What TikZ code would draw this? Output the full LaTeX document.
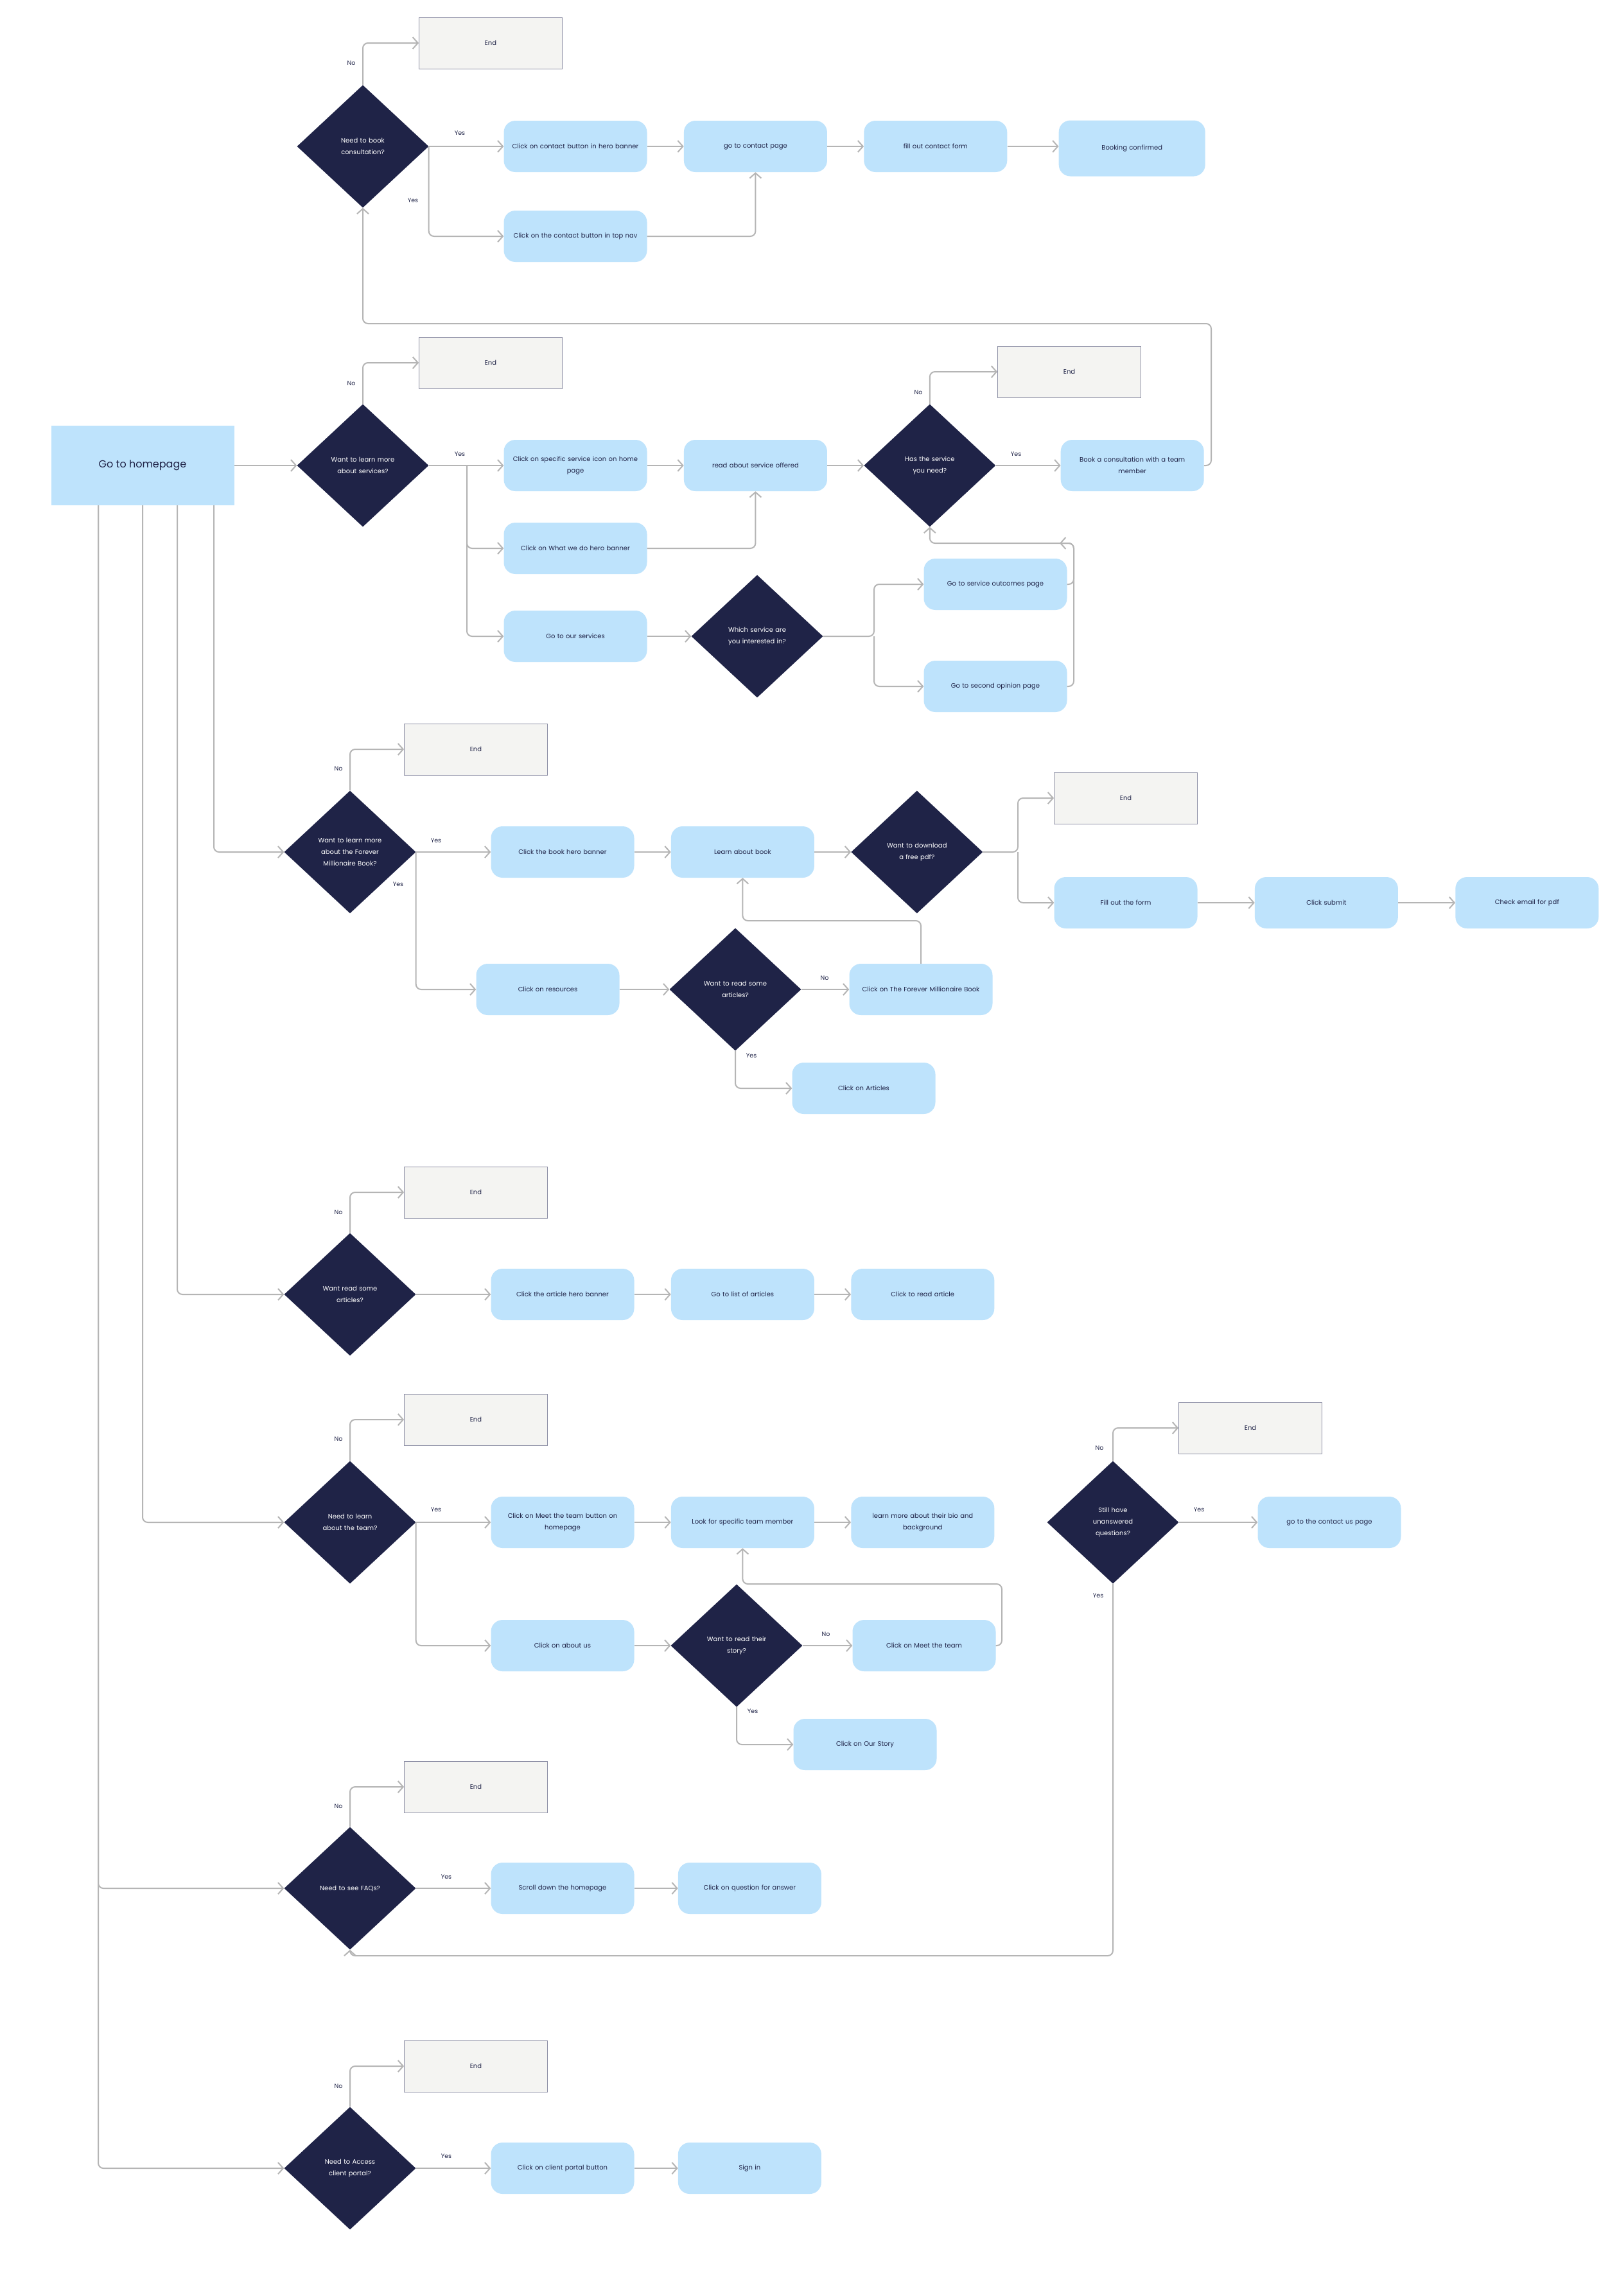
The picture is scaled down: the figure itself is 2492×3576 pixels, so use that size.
\documentclass[tikz,border=0pt]{standalone}
\usepackage{fontspec}
\setmainfont{Poppins}
\usetikzlibrary{shapes.geometric,arrows.meta,positioning}

\definecolor{boxblue}{HTML}{BEE3FC}
\definecolor{navy}{HTML}{1F2347}
\definecolor{endgray}{HTML}{F4F4F2}
\definecolor{endline}{HTML}{8E90A6}
\definecolor{linegray}{HTML}{B5B5B5}

\begin{document}
\begin{tikzpicture}[x=1pt,y=-1pt,node distance=57pt,
	action/.style={
		% The shape:
		rectangle, rounded corners=18pt,
		% The size:
		minimum width=223pt, minimum height=80pt,
		text width=210pt, align=center, inner sep=0pt,
		% The filling:
		fill=boxblue,
		% Font
		text=navy, font=\fontsize{10}{18}\selectfont
		},
	decision/.style={
		% The shape:
		diamond,
		% The size:
		minimum width=205pt, minimum height=191pt,
		text width=120pt, align=center, inner sep=0pt,
		% The filling:
		fill=navy,
		% Font
		text=white, font=\fontsize{10}{18}\selectfont
		},
	terminal/.style={
		rectangle,
		minimum width=223pt, minimum height=80pt,
		draw=endline, line width=0.8pt, % thin frame
		fill=endgray,
		text=navy, font=\fontsize{10}{18}\selectfont
		},
	start/.style={
		rectangle,
		minimum width=285pt, minimum height=124pt,
		fill=boxblue,
		text=navy, font=\fontsize{16}{20}\selectfont
		},
	answer/.style={text=navy, inner sep=0pt, font=\fontsize{9.5}{11}\selectfont},
	link/.style={
		draw=linegray, line width=2pt, rounded corners=8pt,
		-{Straight Barb[length=8pt,width=18pt]}
		}]

	\path[use as bounding box, fill=white] (0,0) rectangle (2492,3576);

	% book a consultation
	\node (end1) [terminal] at (764,67) {End};
	\node (bookq) [decision] at (565,228) {Need to book\\consultation?};
	\node (heroBtn) [action] at (896,228) {Click on contact button in hero banner};
	\node (contactPage) [action,right=of heroBtn] {go to contact page};
	\node (contactForm) [action,right=of contactPage] {fill out contact form};
	\node (booked) [action,minimum width=228pt,minimum height=87pt,right=80pt of contactForm,yshift=-3pt] {Booking confirmed};
	\node (topNav) [action] at (896,368) {Click on the contact button in top nav};

	% services
	\node (home) [start] at (222,725) {Go to homepage};
	\node (servq) [decision] at (565,725) {Want to learn more\\about services?};
	\node (end2) [terminal] at (764,565) {End};
	\node (serviceIcon) [action] at (896,725) {Click on specific service icon on home\\page};
	\node (serviceRead) [action,right=of serviceIcon] {read about service offered};
	\node (needq) [decision,right=of serviceRead] {Has the service\\you need?};
	\node (end3) [terminal] at (1665,579) {End};
	\node (bookTeam) [action,right=101pt of needq] {Book a consultation with a team\\member};
	\node (whatWeDo) [action] at (896,854) {Click on What we do hero banner};
	\node (ourServices) [action] at (896,991) {Go to our services};
	\node (whichq) [decision] at (1179,991) {Which service are\\you interested in?};
	\node (outcomes) [action] at (1550,910) {Go to service outcomes page};
	\node (secondOpinion) [action] at (1550,1069) {Go to second opinion page};

	% the book
	\node (end4) [terminal] at (741,1167) {End};
	\node (millionq) [decision] at (545,1327) {Want to learn more\\about the Forever\\Millionaire Book?};
	\node (bookBanner) [action] at (876,1327) {Click the book hero banner};
	\node (learnBook) [action,right=of bookBanner] {Learn about book};
	\node (pdfq) [decision,right=of learnBook] {Want to download\\a free pdf?};
	\node (end5) [terminal] at (1753,1243) {End};
	\node (fillForm) [action] at (1753,1406) {Fill out the form};
	\node (submit) [action,right=89pt of fillForm] {Click submit};
	\node (checkEmail) [action,right=89pt of submit] {Check email for pdf};
	\node (resources) [action] at (853,1541) {Click on resources};
	\node (articlesq) [decision] at (1145,1541) {Want to read some\\articles?};
	\node (bookLink) [action] at (1434,1541) {Click on The Forever Millionaire Book};
	\node (articlesLink) [action] at (1345,1695) {Click on Articles};

	% articles
	\node (end6) [terminal] at (741,1857) {End};
	\node (readq) [decision] at (545,2016) {Want read some\\articles?};
	\node (articleBanner) [action] at (876,2016) {Click the article hero banner};
	\node (articleList) [action,right=of articleBanner] {Go to list of articles};
	\node (readArticle) [action,right=of articleList] {Click to read article};

	% the team
	\node (end7) [terminal] at (741,2211) {End};
	\node (teamq) [decision] at (545,2371) {Need to learn\\about the team?};
	\node (meetBtn) [action] at (876,2371) {Click on Meet the team button on\\homepage};
	\node (findMember) [action,right=of meetBtn] {Look for specific team member};
	\node (memberBio) [action,right=of findMember] {learn more about their bio and\\background};
	\node (aboutUs) [action] at (876,2563) {Click on about us};
	\node (storyq) [decision] at (1147,2563) {Want to read their\\story?};
	\node (meetTeam) [action] at (1439,2563) {Click on Meet the team};
	\node (ourStory) [action] at (1347,2717) {Click on Our Story};
	\node (end8) [terminal] at (1947,2224) {End};
	\node (stillq) [decision] at (1733,2371) {Still have\\unanswered\\questions?};
	\node (contactUs) [action] at (2070,2371) {go to the contact us page};

	% faqs and client portal
	\node (end9) [terminal] at (741,2783) {End};
	\node (faqq) [decision] at (545,2941) {Need to see FAQs?};
	\node (scrollDown) [action] at (876,2941) {Scroll down the homepage};
	\node (questionClick) [action,right=68pt of scrollDown] {Click on question for answer};
	\node (end10) [terminal] at (741,3218) {End};
	\node (portalq) [decision] at (545,3377) {Need to Access\\client portal?};
	\node (portalBtn) [action] at (876,3377) {Click on client portal button};
	\node (signIn) [action,right=68pt of portalBtn] {Sign in};

	% turning points
	\coordinate (loopturn) at (1886,504);
	\coordinate (servfork) at (727,725);
	\coordinate (pickfork) at (1361,991);
	\coordinate (backturn) at (1672,846);
	\coordinate (backend) at (1650,846);
	\coordinate (pdffork) at (1585,1327);
	\coordinate (bookturn) at (1434,1434);
	\coordinate (teamturn) at (1560,2467);
	\coordinate (faqturn) at (1733,3046);

	% yes / no
	\node (noBook) [answer] at (547,98) {No};
	\node (yesBook) [answer] at (716,207) {Yes};
	\node (yesNav) [answer] at (643,312) {Yes};
	\node (noServ) [answer] at (547,597) {No};
	\node (yesServ) [answer] at (716,707) {Yes};
	\node (noNeed) [answer] at (1430,611) {No};
	\node (yesNeed) [answer] at (1582,707) {Yes};
	\node (noMillion) [answer] at (527,1197) {No};
	\node (yesMillion) [answer] at (679,1309) {Yes};
	\node (yesResources) [answer] at (620,1377) {Yes};
	\node (noArticles) [answer] at (1284,1523) {No};
	\node (yesArticles) [answer] at (1170,1644) {Yes};
	\node (noRead) [answer] at (527,1888) {No};
	\node (noTeam) [answer] at (527,2241) {No};
	\node (yesTeam) [answer] at (679,2351) {Yes};
	\node (noStory) [answer] at (1286,2545) {No};
	\node (yesStory) [answer] at (1172,2665) {Yes};
	\node (noStill) [answer] at (1712,2255) {No};
	\node (yesStill) [answer] at (1867,2351) {Yes};
	\node (yesBack) [answer] at (1710,2485) {Yes};
	\node (noFaq) [answer] at (527,2813) {No};
	\node (yesFaq) [answer] at (695,2923) {Yes};
	\node (noPortal) [answer] at (527,3249) {No};
	\node (yesPortal) [answer] at (695,3358) {Yes};

	% book a consultation
	\draw[link] (bookq.north) |- (end1.west);
	\path (bookq) edge[link] (heroBtn); % simple edges
	\draw[link] (bookq.east) |- (topNav.west);
	\path (heroBtn) edge[link] (contactPage);
	\path (contactPage) edge[link] (contactForm);
	\path (contactForm) edge[link] (contactForm -| booked.west);
	\draw[link] (topNav.east) -| (contactPage.south);
	\draw[link] (bookTeam.east) -| (loopturn) -| (bookq.south);

	% services
	\path (home) edge[link] (servq);
	\draw[link] (servq.north) |- (end2.west);
	\path (servq) edge[link] (serviceIcon);
	\draw[link] (servfork) |- (whatWeDo.west);
	\draw[link] (servfork) |- (ourServices.west);
	\path (serviceIcon) edge[link] (serviceRead);
	\draw[link] (whatWeDo.east) -| (serviceRead.south);
	\path (serviceRead) edge[link] (needq);
	\draw[link] (needq.north) |- (end3.west);
	\path (needq) edge[link] (bookTeam);
	\path (ourServices) edge[link] (whichq);
	\draw[link] (whichq.east) -- (pickfork) |- (outcomes.west);
	\draw[link] (pickfork) |- (secondOpinion.west);
	\draw[link] (outcomes.east) -| (backturn) -| (needq.south);
	\draw[link] (secondOpinion.east) -| (backturn) -- (backend);

	% the book
	\draw[link] ([xshift=111pt]home.south) |- (millionq.west);
	\draw[link] (millionq.north) |- (end4.west);
	\path (millionq) edge[link] (bookBanner);
	\draw[link] (millionq.east) |- (resources.west);
	\path (bookBanner) edge[link] (learnBook);
	\path (learnBook) edge[link] (pdfq);
	\draw[link] (pdfq.east) -- (pdffork) |- (end5.west);
	\draw[link] (pdffork) |- (fillForm.west);
	\path (fillForm) edge[link] (submit);
	\path (submit) edge[link] (checkEmail);
	\path (resources) edge[link] (articlesq);
	\path (articlesq) edge[link] (bookLink);
	\draw[link] (bookLink.north) -- (bookturn) -| (learnBook.south);
	\draw[link] (articlesq.south) |- (articlesLink.west);

	% articles
	\draw[link] ([xshift=54pt]home.south) |- (readq.west);
	\draw[link] (readq.north) |- (end6.west);
	\path (readq) edge[link] (articleBanner);
	\path (articleBanner) edge[link] (articleList);
	\path (articleList) edge[link] (readArticle);

	% the team
	\draw[link] (home.south) |- (teamq.west);
	\draw[link] (teamq.north) |- (end7.west);
	\path (teamq) edge[link] (meetBtn);
	\draw[link] (teamq.east) |- (aboutUs.west);
	\path (meetBtn) edge[link] (findMember);
	\path (findMember) edge[link] (memberBio);
	\path (aboutUs) edge[link] (storyq);
	\path (storyq) edge[link] (meetTeam);
	\draw[link] (meetTeam.east) -| (teamturn) -| (findMember.south);
	\draw[link] (storyq.south) |- (ourStory.west);
	\draw[link] (stillq.north) |- (end8.west);
	\path (stillq) edge[link] (contactUs);
	\draw[link] (stillq.south) -- (faqturn) -| (faqq.south);

	% faqs and client portal
	\draw[link] ([xshift=-69pt]home.south) |- (faqq.west);
	\draw[link] (faqq.north) |- (end9.west);
	\path (faqq) edge[link] (scrollDown);
	\path (scrollDown) edge[link] (questionClick);
	\draw[link] ([xshift=-69pt]home.south) |- (portalq.west);
	\draw[link] (portalq.north) |- (end10.west);
	\path (portalq) edge[link] (portalBtn);
	\path (portalBtn) edge[link] (signIn);

\end{tikzpicture}
\end{document}
